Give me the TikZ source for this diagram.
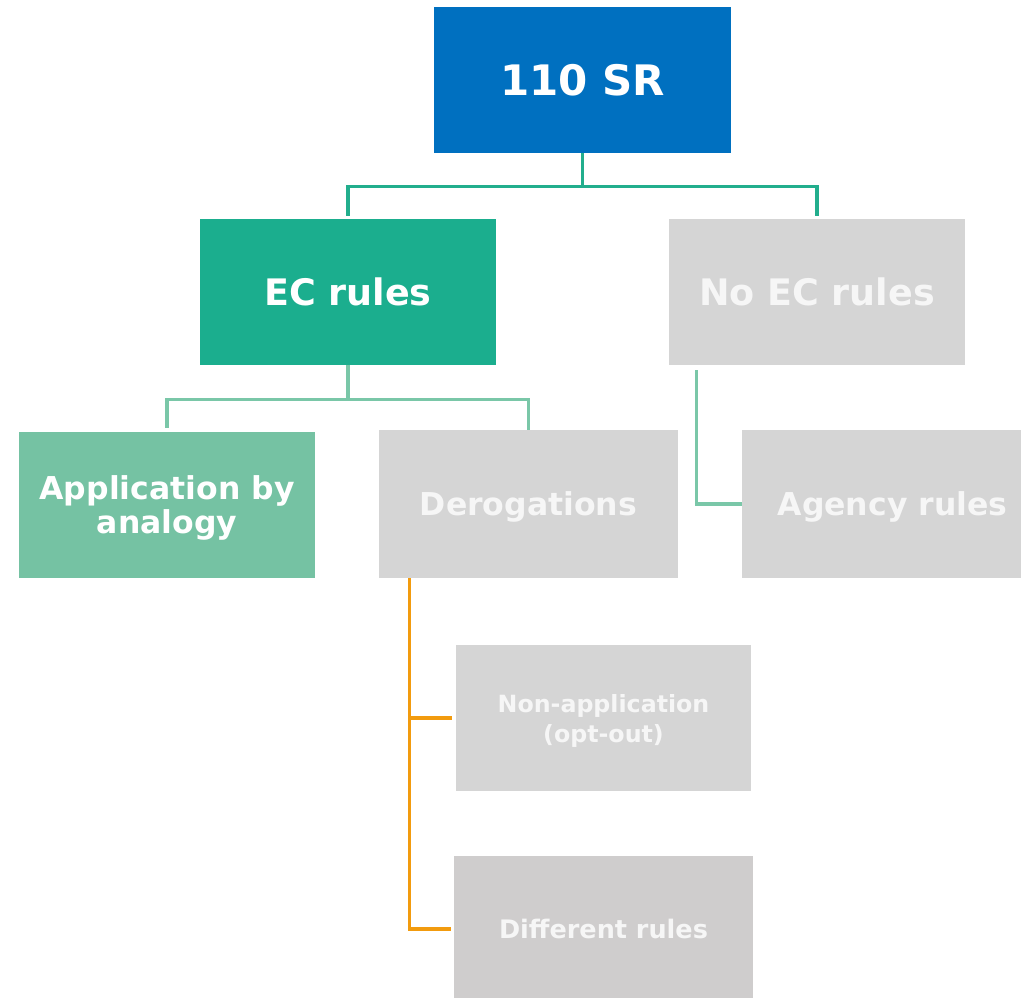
\documentclass[tikz,border=0pt]{standalone}
\usepackage{fontspec}
\setmainfont{DejaVu Sans}
\begin{document}
\definecolor{srblue}{HTML}{0070C0}
\definecolor{ecteal}{HTML}{1BAE8E}
\definecolor{lightteal}{HTML}{75C2A3}
\definecolor{boxgray}{HTML}{D5D5D5}
\definecolor{boxgrayb}{HTML}{CFCDCD}
\definecolor{softwhite}{HTML}{F6F6F6}
\definecolor{lineteal}{HTML}{22AE8D}
\definecolor{linelight}{HTML}{7AC7A8}
\definecolor{lineorange}{HTML}{F29B0E}
\begin{tikzpicture}[x=1pt,y=-1pt,
  box/.style={rectangle,inner sep=0pt,align=center,font=\bfseries,text=white,text depth=0pt},
  graybox/.style={box,fill=boxgray,text=softwhite},
  conn/.style={line width=3.3pt,line cap=butt},
  connA/.style={conn,draw=lineteal},
  connB/.style={conn,draw=linelight},
  connC/.style={conn,draw=lineorange}]
\useasboundingbox (0,0) rectangle (1021,998);

% boxes
\node[box,fill=srblue,minimum width=297pt,minimum height=146pt,
      font=\bfseries\fontsize{42}{48}\selectfont] (top) at (582.5,80) {110 SR};
\node[box,fill=ecteal,minimum width=296pt,minimum height=146pt,
      font=\bfseries\fontsize{36.5}{42}\selectfont] (ec) at (348,292) {EC rules};
\node[graybox,minimum width=296pt,minimum height=146pt,
      font=\bfseries\fontsize{36.5}{42}\selectfont] (noec) at (817,292) {No EC rules};
\node[box,fill=lightteal,minimum width=296pt,minimum height=146pt,
      font=\bfseries\fontsize{31.5}{34}\selectfont] (app) at (167,505) {Application by\\analogy};
\node[graybox,minimum width=299pt,minimum height=148pt,
      font=\bfseries\fontsize{31.5}{34}\selectfont] (der) at (528.5,504) {Derogations};
\node[graybox,minimum width=301pt,minimum height=148pt,
      font=\bfseries\fontsize{31.5}{34}\selectfont] (agency) at (892.5,504) {Agency rules};
\node[graybox,minimum width=295pt,minimum height=146pt,
      font=\bfseries\fontsize{23.7}{30}\selectfont] (nonapp) at (603.5,718) {Non-application\\(opt-out)};
\node[graybox,fill=boxgrayb,minimum width=299pt,minimum height=146pt,
      font=\bfseries\fontsize{25.5}{29}\selectfont] (diff) at (603.5,929) {Different rules};

% 110 SR to its two branches
\draw[connA] (top.south) -- ++(0,33) coordinate (j1);
\draw[connA] (j1) -| ([yshift=3pt]ec.north);
\draw[connA] (j1) -| ([yshift=3pt]noec.north);

% EC rules to its two branches
\draw[connB] (ec.south) -- ++(0,34) coordinate (j2);
\draw[connB] (j2) -| ([yshift=4pt]app.north);
\draw[connB] (j2) -| (der.north);

% No EC rules to agency rules
\draw[connB] ([xshift=28pt,yshift=-5pt]noec.south west) |- (agency.west);

% derogations to their two kinds
\draw[connC] ([xshift=31pt]der.south west) |- ([xshift=-3pt]diff.west);
\draw[connC] ([xshift=31pt]der.south west) |- ([xshift=-4pt]nonapp.west);
\end{tikzpicture}
\end{document}
